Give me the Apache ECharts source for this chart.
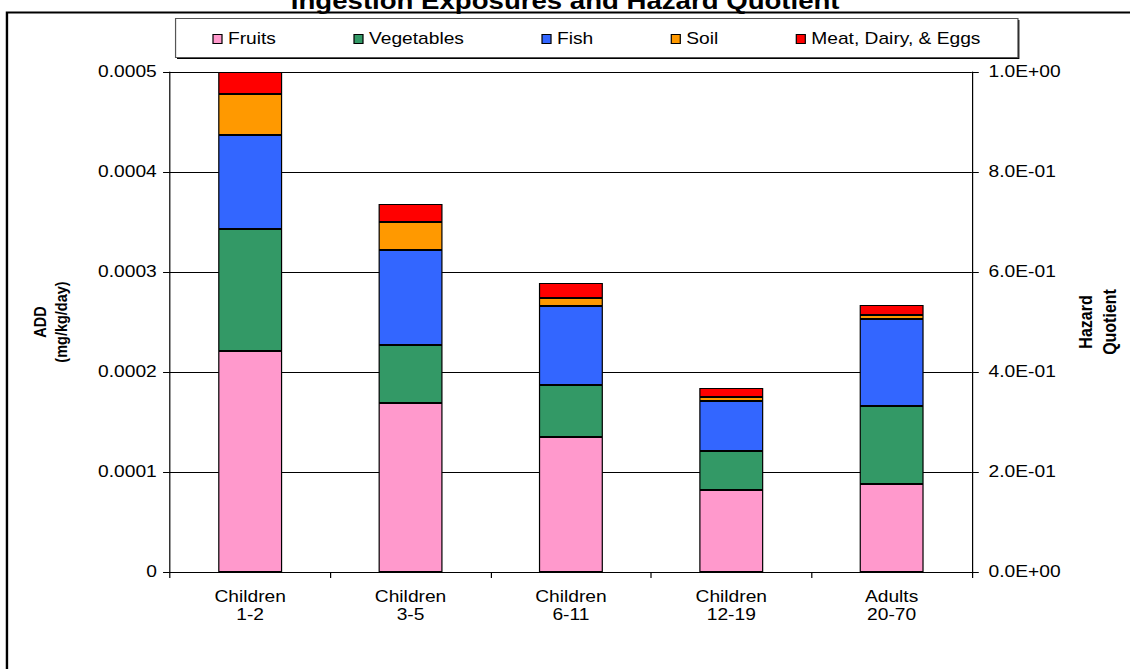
<!DOCTYPE html>
<html>
<head>
<meta charset="utf-8">
<script src="https://cdn.jsdelivr.net/npm/echarts@6/dist/echarts.min.js"></script>
<style>
  html, body { margin: 0; padding: 0; background: #fff; overflow: hidden; }
  #wrap { width: 1130px; height: 669px; overflow: hidden; position: relative; }
  /* the chart is laid out 1.2x narrower and stretched wide */
  #chart { width: 941.67px; height: 669px; transform: scaleX(1.2); transform-origin: 0 0; }
</style>
</head>
<body>
<div id="wrap"><div id="chart"></div></div>
<script>
// Average daily dose (mg/kg/day) by pathway for each age group
const categories = ['Children\n1-2', 'Children\n3-5', 'Children\n6-11', 'Children\n12-19', 'Adults\n20-70'];
const fruits     = [0.000221, 0.000169, 0.000135, 0.000082, 0.000088];
const vegetables = [0.000122, 0.000058, 0.000052, 0.000039, 0.000078];
const fish       = [0.000094, 0.000095, 0.000079, 0.000050, 0.000087];
const soil       = [0.000041, 0.000028, 0.000008, 0.000004, 0.000004];
const meat       = [0.000022, 0.000018, 0.000015, 0.000009, 0.000010];

const seriesNames = ['Fruits', 'Vegetables', 'Fish', 'Soil', 'Meat, Dairy, & Eggs'];
const seriesData = [fruits, vegetables, fish, soil, meat];
const seriesColors = ['#FF99CC', '#339966', '#3366FF', '#FF9900', '#FF0000'];

const FONT = '"Liberation Sans", Arial, sans-serif';

function hqLabel(v) {
  if (v === 0) return '0.0E+00';
  const e = Math.floor(Math.log10(v) + 1e-9);
  const m = v / Math.pow(10, e);
  const sign = e < 0 ? '-' : '+';
  const ea = Math.abs(e);
  return m.toFixed(1) + 'E' + sign + (ea < 10 ? '0' + ea : ea);
}

const chart = echarts.init(document.getElementById('chart'), null, { renderer: 'svg' });

chart.setOption({
  animation: false,
  backgroundColor: '#fff',
  textStyle: { fontFamily: FONT },
  title: {
    text: 'Ingestion Exposures and Hazard Quotient',
    left: 'center',
    top: -16,
    textStyle: { fontFamily: FONT, fontSize: 23, fontWeight: 'bold', color: '#000' }
  },
  graphic: [
    { type: 'rect', left: 3.3, top: 10, z: 0,
      shape: { width: 1000, height: 700 },
      style: { fill: null, stroke: '#000', lineWidth: 2 } },
    { type: 'rect', left: 147.5, top: 20, z: 0,
      shape: { width: 702, height: 39 },
      style: { fill: '#000' } },
    { type: 'rect', left: 145.8, top: 18, z: 0,
      shape: { width: 702, height: 39 },
      style: { fill: '#fff', stroke: '#555', lineWidth: 1 } }
  ],
  legend: {
    left: 177,
    top: 30,
    z: 5,
    icon: 'rect',
    itemWidth: 7.5,
    itemHeight: 9,
    itemGap: 64.5,
    padding: 0,
    data: seriesNames,
    itemStyle: { borderColor: '#000', borderWidth: 1 },
    textStyle: { fontFamily: FONT, fontSize: 16, color: '#000', lineHeight: 18 }
  },
  grid: { left: 141.67, right: 128.33, top: 72, bottom: 97, containLabel: false },
  xAxis: {
    type: 'category',
    data: categories,
    axisLine: { lineStyle: { color: '#000', width: 1 } },
    axisTick: { show: true, length: 6, lineStyle: { color: '#000' } },
    axisLabel: { color: '#000', fontSize: 16, lineHeight: 18, margin: 16, fontFamily: FONT }
  },
  yAxis: [
    {
      type: 'value',
      position: 'left',
      min: 0, max: 0.0005, interval: 0.0001,
      name: 'ADD\n(mg/kg/day)',
      nameLocation: 'middle',
      nameRotate: 90,
      nameGap: 82,
      nameTextStyle: { fontFamily: FONT, fontSize: 14.5, fontWeight: 'bold', color: '#000', lineHeight: 17.5 },
      axisLine: { show: true, lineStyle: { color: '#000', width: 1 } },
      axisTick: { show: true, length: 5.8, lineStyle: { color: '#000' } },
      axisLabel: { color: '#000', fontSize: 16, margin: 11, fontFamily: FONT,
        formatter: v => v === 0 ? '0' : v.toFixed(4) },
      splitLine: { show: true, lineStyle: { color: '#000', width: 1 } }
    },
    {
      type: 'value',
      position: 'right',
      min: 0, max: 1, interval: 0.2,
      name: 'Hazard\nQuotient',
      nameLocation: 'middle',
      nameRotate: 90,
      nameGap: 76,
      nameTextStyle: { fontFamily: FONT, fontSize: 16, fontWeight: 'bold', color: '#000', lineHeight: 19.6 },
      axisLine: { show: true, lineStyle: { color: '#000', width: 1 } },
      axisTick: { show: true, length: 5.8, lineStyle: { color: '#000' } },
      axisLabel: { color: '#000', fontSize: 16, margin: 14, fontFamily: FONT, formatter: hqLabel },
      splitLine: { show: false }
    }
  ],
  series: seriesNames.map((name, i) => ({
    name: name,
    type: 'bar',
    stack: 'add',
    yAxisIndex: 0,
    barWidth: 53.3,
    data: seriesData[i],
    itemStyle: { color: seriesColors[i], borderColor: '#000', borderWidth: 1 }
  }))
});
</script>
</body>
</html>
